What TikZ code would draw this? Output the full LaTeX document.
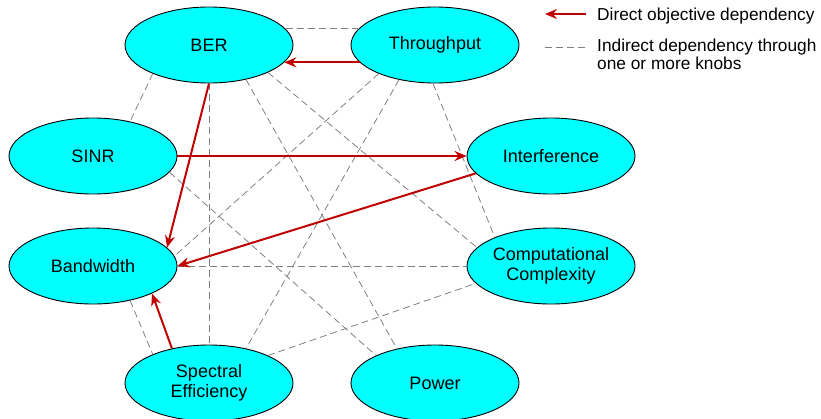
\documentclass[tikz,border=0pt]{standalone}
\usepackage{fontspec}
\setmainfont{Liberation Sans}
\usetikzlibrary{shapes.geometric,arrows.meta}
\definecolor{dred}{RGB}{192,0,0}
\definecolor{dgray}{RGB}{128,128,128}
\definecolor{objfill}{RGB}{0,255,255}
\begin{document}
\begin{tikzpicture}[x=1pt,y=-1pt,
  obj/.style={ellipse,draw=black,line width=0.9pt,fill=objfill,minimum width=168pt,minimum height=76pt,inner sep=0pt,font=\fontsize{18}{20}\selectfont,align=center},
  ind/.style={draw=dgray,line width=0.8pt,dash pattern=on 7pt off 4pt},
  dir/.style={draw=dred,line width=2pt,-{Stealth[length=12pt,width=10pt,inset=4pt]}},
  legtext/.style={anchor=base west,inner sep=0pt,align=left,font=\fontsize{17.3}{18}\selectfont}]
\useasboundingbox (0,0) rectangle (821,418);
% objectives
\node[obj] (BER) at (209,45) {BER};
\node[obj] (TP) at (435,45) {Throughput};
\node[obj] (SINR) at (93,156) {SINR};
\node[obj] (INT) at (551,156) {Interference};
\node[obj] (BW) at (93,266) {Bandwidth};
\node[obj] (CC) at (551,266) {Computational\\Complexity};
\node[obj] (SE) at (209,383) {Spectral\\Efficiency};
\node[obj] (PW) at (435,383) {Power};
% indirect dependencies
\draw[ind] (BER.12) -- (TP.168);
\draw[ind] (BER.207) -- (SINR.43);
\draw[ind] (BER.south) -- (SE.north);
\draw[ind] (BER.-43) -- (PW.138);
\draw[ind] (BER.-25) -- (CC.166);
\draw[ind] (TP.207) -- (BW.7);
\draw[ind] (TP.224) -- (SE.43);
\draw[ind] (TP.-93) -- (CC.153);
\draw[ind] (SINR.-12) -- (PW.155);
\draw[ind] (BW.east) -- (CC.west);
\draw[ind] (BW.-43) -- (SE.153);
\draw[ind] (SE.25) -- (CC.193);
% direct dependencies
\draw[dir] (TP.193) -- (BER.-13);
\draw[dir] (SINR.east) -- (INT.west);
\draw[dir] (BER.south) -- (BW.14);
\draw[dir] (INT.193) -- (BW.east);
\draw[dir] (SE.137) -- (BW.-25);
% legend
\coordinate (la1) at (586,14);
\coordinate (la2) at (545,14);
\draw[dir] (la1) -- (la2);
\node[legtext] (lt1) at (597,20) {Direct objective dependency};
\coordinate (lb1) at (545,47);
\coordinate (lb2) at (586,47);
\draw[ind] (lb1) -- (lb2);
\node[legtext] (lt2) at (597,69) {Indirect dependency through\\one or more knobs};
\end{tikzpicture}
\end{document}
